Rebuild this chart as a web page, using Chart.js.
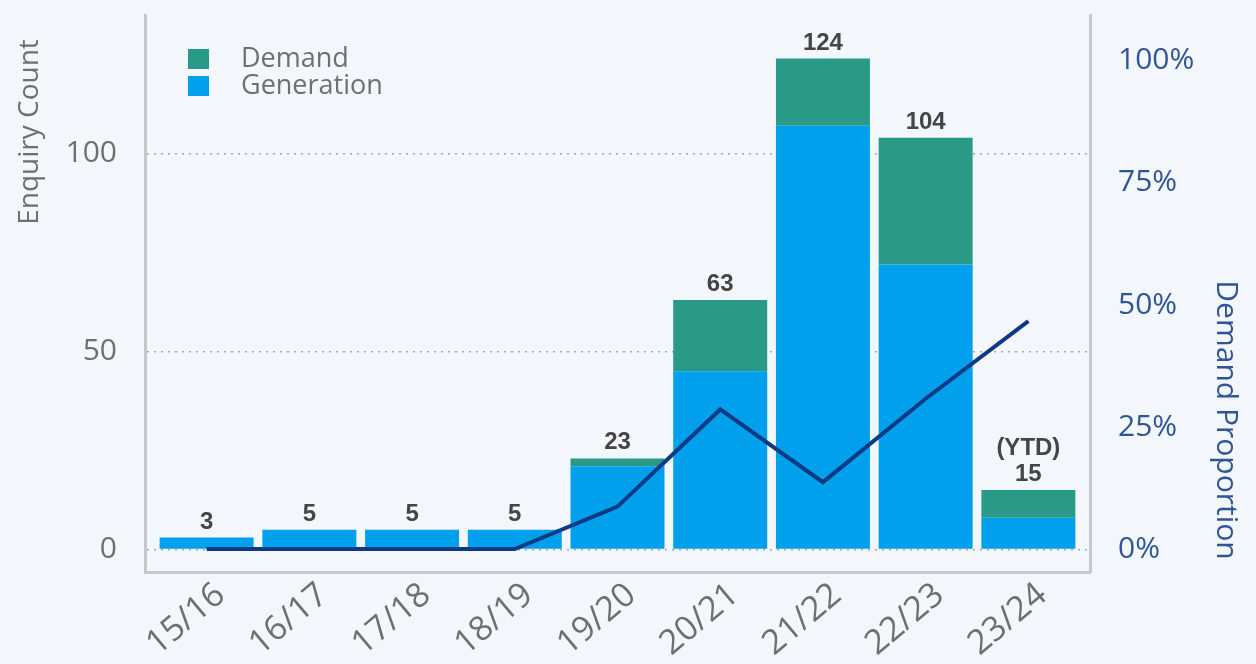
<!DOCTYPE html>
<html><head><meta charset="utf-8">
<script src="https://cdn.jsdelivr.net/npm/chart.js@4/dist/chart.umd.min.js"></script>
<style>html,body{margin:0;padding:0;background:#f3f7fc;overflow:hidden}#wrap{width:1256px;height:664px}</style>
</head><body><div id="wrap"><canvas id="c" width="1256" height="664"></canvas></div>
<script>
const categories = ['15/16','16/17','17/18','18/19','19/20','20/21','21/22','22/23','23/24'];
const generation = [3, 5, 5, 5, 21, 45, 107, 72, 8];
const demand = [0, 0, 0, 0, 2, 18, 17, 32, 7];
const totals = [3, 5, 5, 5, 23, 63, 124, 104, 15];
const totalNotes = ['', '', '', '', '', '', '', '', '(YTD)'];
const demandProportion = [0, 0, 0, 0, 8.7, 28.6, 13.7, 30.8, 46.7];
const countTicks = [0, 50, 100];
const proportionTicks = [0, 25, 50, 75, 100];

const FONT = "'Open Sans', sans-serif";
const GRAY = '#6f6f6f';
const NAVY_TXT = '#2f5596';
const C_DEMAND = '#2a9a88';
const C_GEN = '#00a0ec';
const C_LINE = '#0c3a84';

const pts = arr => arr.map((v, i) => ({x: i, y: v}));
const noPad = s => { s.paddingTop = 0; s.paddingBottom = 0; s.paddingLeft = 0; s.paddingRight = 0; };

const overlay = {
  id: 'overlay',
  afterDatasetsDraw(chart) {
    const ctx = chart.ctx, xs = chart.scales.x, ys = chart.scales.y;
    ctx.save();
    ctx.fillStyle = '#454545';
    ctx.font = "bold 24px 'Liberation Sans', Arial, sans-serif";
    ctx.textAlign = 'center';
    ctx.textBaseline = 'alphabetic';
    totals.forEach((t, i) => {
      const x = xs.getPixelForValue(i);
      const y = ys.getPixelForValue(t) - 9;
      ctx.fillText(String(t), x, y);
      if (totalNotes[i]) ctx.fillText(totalNotes[i], x, y - 26);
    });
    ctx.restore();
  },
  afterDraw(chart) {
    const ctx = chart.ctx;
    ctx.save();
    const items = [{t: 'Demand', c: C_DEMAND}, {t: 'Generation', c: C_GEN}];
    ctx.font = "27px " + FONT;
    ctx.textBaseline = 'middle';
    ctx.textAlign = 'left';
    items.forEach((it, k) => {
      const y = 49 + k * 27;
      ctx.fillStyle = it.c;
      ctx.fillRect(188, y, 21, 20);
      ctx.fillStyle = GRAY;
      ctx.fillText(it.t, 241, y + 10);
    });
    ctx.textAlign = 'center';
    ctx.font = "28px " + FONT;
    ctx.fillStyle = GRAY;
    ctx.translate(30, 132);
    ctx.rotate(-Math.PI / 2);
    ctx.fillText('Enquiry Count', 0, 0);
    ctx.restore();
    ctx.save();
    ctx.textAlign = 'center';
    ctx.textBaseline = 'middle';
    ctx.font = "30px " + FONT;
    ctx.fillStyle = NAVY_TXT;
    ctx.translate(1226, 420);
    ctx.rotate(Math.PI / 2);
    ctx.fillText('Demand Proportion', 0, 0);
    ctx.restore();
  }
};

new Chart(document.getElementById('c'), {
  data: {
    datasets: [
      {type: 'line', label: 'Demand Proportion', data: pts(demandProportion), yAxisID: 'y1',
       borderColor: C_LINE, borderWidth: 4, pointRadius: 0, tension: 0, fill: false, order: 0},
      {type: 'bar', label: 'Generation', data: pts(generation), yAxisID: 'y',
       backgroundColor: C_GEN, categoryPercentage: 1, barPercentage: 0.915, order: 1},
      {type: 'bar', label: 'Demand', data: pts(demand), yAxisID: 'y',
       backgroundColor: C_DEMAND, categoryPercentage: 1, barPercentage: 0.915, order: 1}
    ]
  },
  options: {
    responsive: false,
    animation: false,
    devicePixelRatio: 1,
    layout: {padding: {top: 15, left: 0, right: 0, bottom: 0}},
    plugins: {legend: {display: false}, tooltip: {enabled: false}},
    scales: {
      x: {
        type: 'linear', min: -0.6, max: 8.6, offset: false, stacked: true,
        afterBuildTicks: s => { s.ticks = categories.map((c, i) => ({value: i})); },
        afterFit: s => { s.height = 92; noPad(s); },
        ticks: {callback: v => categories[v], autoSkip: false, minRotation: 40, maxRotation: 40,
                color: GRAY, font: {family: FONT, size: 34}, padding: 3, labelOffset: 14},
        grid: {display: false, drawTicks: false},
        border: {display: true, color: '#c6c9cc', width: 3}
      },
      y: {
        position: 'left', stacked: true, min: -5.7, max: 135,
        afterBuildTicks: s => { s.ticks = countTicks.map(v => ({value: v})); },
        afterFit: s => { s.width = 145; noPad(s); },
        ticks: {color: GRAY, font: {family: FONT, size: 30}, padding: 28},
        grid: {display: true, drawTicks: false, color: '#a8abae', lineWidth: 1.5},
        border: {display: true, color: '#c6c9cc', width: 3, dash: [2, 5]}
      },
      y1: {
        position: 'right', min: -4.7, max: 109.4,
        afterBuildTicks: s => { s.ticks = proportionTicks.map(v => ({value: v})); },
        afterFit: s => { s.width = 166; noPad(s); },
        ticks: {callback: v => v + '%', color: NAVY_TXT, font: {family: FONT, size: 30}, padding: 28},
        grid: {display: false, drawTicks: false},
        border: {display: true, color: '#c6c9cc', width: 3}
      }
    }
  },
  plugins: [overlay]
});
</script>
</body></html>
